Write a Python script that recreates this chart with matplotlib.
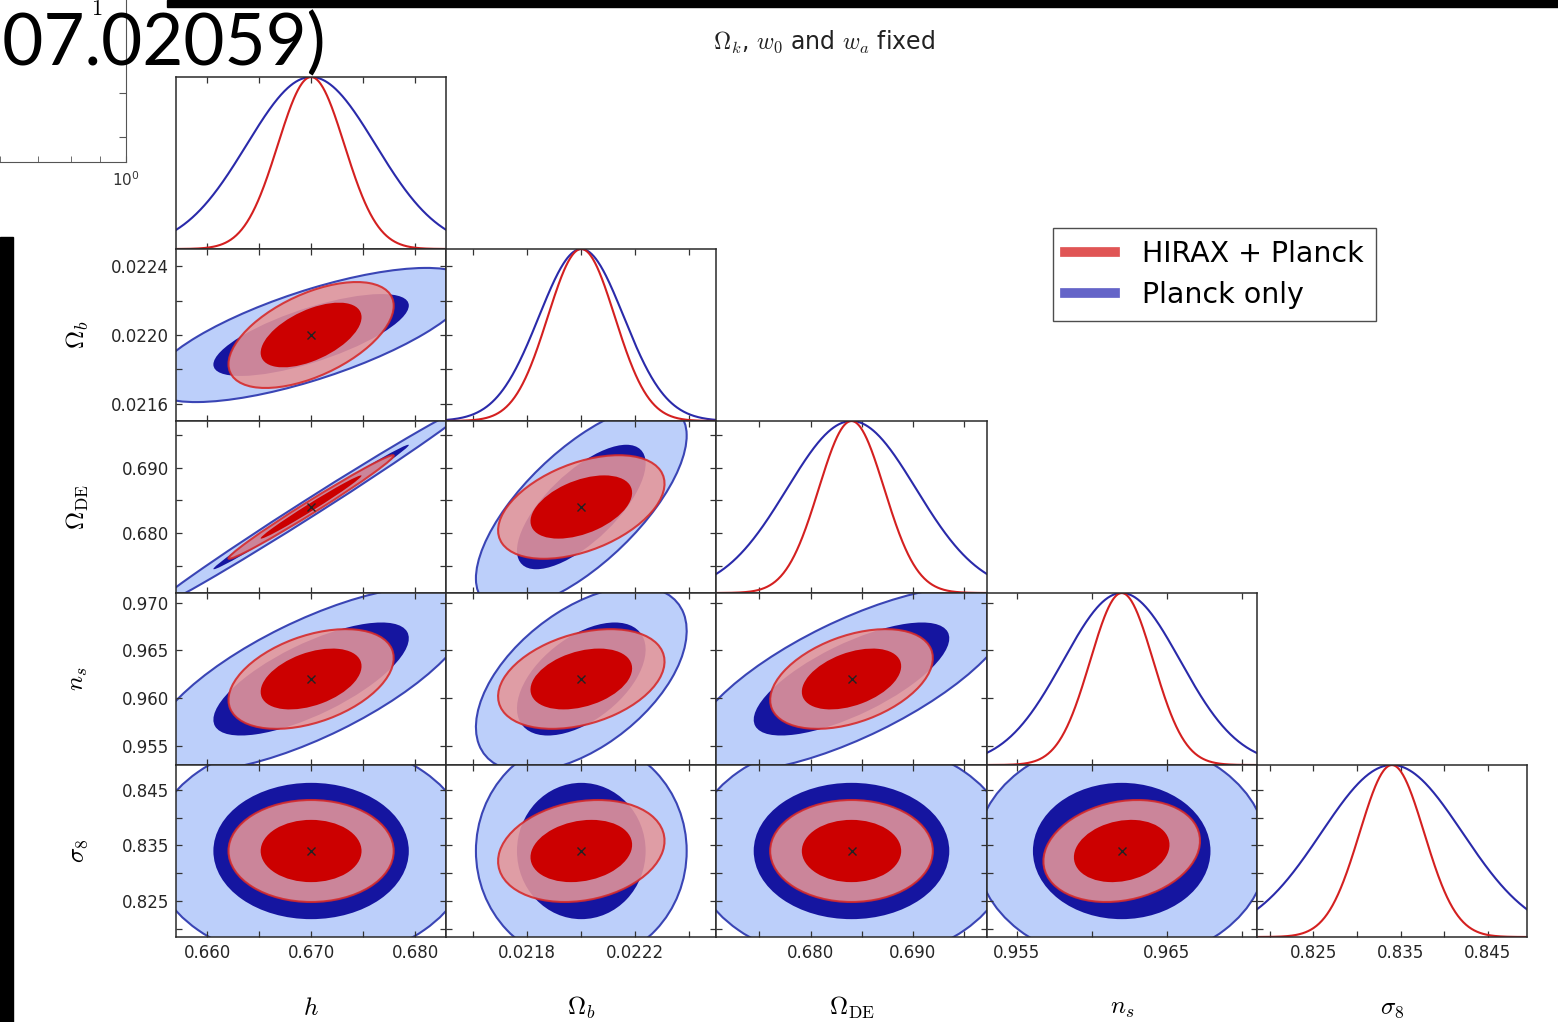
import numpy as np
import matplotlib
matplotlib.use('Agg')
import matplotlib.pyplot as plt
from matplotlib.patches import Ellipse, Rectangle
from matplotlib.lines import Line2D
import matplotlib.ticker as ticker

plt.rcParams['mathtext.fontset'] = 'cm'
plt.rcParams['font.family'] = ['DejaVu Sans']

# Fisher forecast values
labels = [r'$h$', r'$\Omega_b$', r'$\Omega_{\rm DE}$', r'$n_s$', r'$\sigma_8$']
fiducial = [0.670, 0.0220, 0.684, 0.962, 0.834]
half_range = [0.0130, 0.0005, 0.0132, 0.0090, 0.0155]
sigma_planck = [0.0062, 0.000157, 0.0063, 0.0039, 0.0081]
sigma_hirax = [0.0032, 0.000124, 0.0032, 0.0021, 0.0037]
corr_planck = [
    [1.00, 0.72, 0.995, 0.72, 0.00],
    [0.72, 1.00, 0.70, 0.52, 0.00],
    [0.995, 0.70, 1.00, 0.72, 0.00],
    [0.72, 0.52, 0.72, 1.00, 0.00],
    [0.00, 0.00, 0.00, 0.00, 1.00],
]
corr_hirax = [
    [1.00, 0.55, 0.99, 0.42, 0.00],
    [0.55, 1.00, 0.45, 0.35, 0.20],
    [0.99, 0.45, 1.00, 0.42, 0.00],
    [0.42, 0.35, 0.42, 1.00, 0.20],
    [0.00, 0.20, 0.00, 0.20, 1.00],
]

# tick positions and which ones get labels
tick_step = [0.005, 0.0002, 0.005, 0.005, 0.005]
xtick_labels = [[0.660, 0.670, 0.680], [0.0218, 0.0222], [0.680, 0.690],
                [0.955, 0.965], [0.825, 0.835, 0.845]]
ytick_labels = [None, [0.0216, 0.0220, 0.0224], [0.680, 0.690],
                [0.955, 0.960, 0.965, 0.970], [0.825, 0.835, 0.845]]
fmts = ['%.3f', '%.4f', '%.3f', '%.3f', '%.3f']

planck_light = '#bccffa'
planck_dark = '#1515a0'
planck_edge = '#3a45b5'
planck_line = '#2a2aaa'
hirax_light = '#e5969a'
hirax_dark = '#cc0000'
hirax_edge = '#d62828'
hirax_line = '#d42020'

DCHI2_1 = 2.30
DCHI2_2 = 6.17

W, H = 1558, 1022
fig = plt.figure(figsize=(W / 100, H / 100), dpi=100)

x0, x1, y0, y1 = 176, 1527, 77, 937
n = len(labels)
cw = (x1 - x0) / n
ch = (y1 - y0) / n


def all_ticks(i):
    lo = fiducial[i] - half_range[i]
    hi = fiducial[i] + half_range[i]
    st = tick_step[i]
    return np.arange(np.ceil(lo / st - 1e-6) * st, hi + 1e-12, st)


def set_ticks(axis, i, labelled, show):
    t = all_ticks(i)
    axis.set_major_locator(ticker.FixedLocator(t))
    if show and labelled is not None:
        labs = []
        for v in t:
            if any(abs(v - l) < tick_step[i] * 0.1 for l in labelled):
                labs.append(fmts[i] % v)
            else:
                labs.append('')
        axis.set_major_formatter(ticker.FixedFormatter(labs))
    else:
        axis.set_major_formatter(ticker.NullFormatter())


def cov2(si, sj, r):
    return np.array([[si * si, r * si * sj], [r * si * sj, sj * sj]])


def ellipse(ax, cov, center, k2, **kw):
    vals, vecs = np.linalg.eigh(cov)
    angle = np.degrees(np.arctan2(vecs[1, 1], vecs[0, 1]))
    w = 2 * np.sqrt(k2 * vals[1])
    h = 2 * np.sqrt(k2 * vals[0])
    ax.add_patch(Ellipse(center, w, h, angle=angle, **kw))


def style(ax):
    for s in ax.spines.values():
        s.set_color('#2a2a2a')
        s.set_linewidth(1.1)
    ax.tick_params(which='both', direction='in', top=True, right=True,
                   length=4.5, width=0.9, color='#333333', labelsize=12,
                   labelcolor='#262626', pad=5)


for i in range(n):
    for j in range(i + 1):
        rect = [(x0 + j * cw) / W, 1 - (y0 + (i + 1) * ch) / H, cw / W, ch / H]
        ax = fig.add_axes(rect)
        style(ax)
        xlo, xhi = fiducial[j] - half_range[j], fiducial[j] + half_range[j]
        ax.set_xlim(xlo, xhi)
        set_ticks(ax.xaxis, j, xtick_labels[j], i == n - 1)
        if i == j:
            xs = np.linspace(xlo, xhi, 400)
            yp = np.exp(-0.5 * ((xs - fiducial[j]) / sigma_planck[j]) ** 2)
            yh = np.exp(-0.5 * ((xs - fiducial[j]) / sigma_hirax[j]) ** 2)
            ax.plot(xs, yp, color=planck_line, lw=1.5)
            ax.plot(xs, yh, color=hirax_line, lw=1.5)
            ax.set_ylim(0, 1)
            ax.set_yticks([])
            ax.tick_params(axis='y', left=False, right=False)
            if i > 0:
                axt = ax.twinx()
                axt.set_frame_on(False)
                axt.set_ylim(fiducial[i] - half_range[i], fiducial[i] + half_range[i])
                axt.yaxis.set_major_locator(ticker.FixedLocator(all_ticks(i)))
                axt.yaxis.set_ticks_position('left')
                axt.tick_params(axis='y', direction='in', length=4.5, width=0.9,
                                color='#333333', labelleft=False, labelright=False)
        else:
            ax.set_ylim(fiducial[i] - half_range[i], fiducial[i] + half_range[i])
            set_ticks(ax.yaxis, i, ytick_labels[i], j == 0)
            c = (fiducial[j], fiducial[i])
            cp = cov2(sigma_planck[j], sigma_planck[i], corr_planck[i][j])
            chh = cov2(sigma_hirax[j], sigma_hirax[i], corr_hirax[i][j])
            ellipse(ax, cp, c, DCHI2_2, facecolor=planck_light,
                    edgecolor=planck_edge, lw=1.5, zorder=1)
            ellipse(ax, cp, c, DCHI2_1, facecolor=planck_dark,
                    edgecolor='none', zorder=2)
            ellipse(ax, chh, c, DCHI2_2, facecolor=hirax_light,
                    edgecolor=hirax_edge, lw=1.5, alpha=0.88, zorder=3)
            ellipse(ax, chh, c, DCHI2_1, facecolor=hirax_dark,
                    edgecolor='none', zorder=4)
            ax.plot(c[0], c[1], 'x', color='#222222', ms=6, mew=1, zorder=5)

# axis labels
for j in range(n):
    fig.text((x0 + (j + 0.5) * cw) / W, 1 - 1008 / H, labels[j],
             ha='center', va='center', fontsize=18)
for i in range(1, n):
    fig.text(78 / W, 1 - (y0 + (i + 0.5) * ch) / H, labels[i],
             ha='center', va='center', rotation=90, fontsize=18)

fig.text(824 / W, 1 - 42 / H, r'$\Omega_k$, $w_0$ and $w_a$ fixed',
         ha='center', va='center', fontsize=17, color='#222222')

handles = [Line2D([], [], color='#e05555', lw=7),
           Line2D([], [], color='#6464c8', lw=7)]
leg = fig.legend(handles, ['HIRAX + Planck', 'Planck only'], loc='upper left',
                 bbox_to_anchor=(1053 / W, 1 - 228 / H), borderaxespad=0,
                 fontsize=20.5, fancybox=False, handlelength=1.75,
                 handletextpad=0.95, borderpad=0.42, labelspacing=0.45)
leg.get_frame().set_edgecolor('#222222')
leg.get_frame().set_linewidth(1.0)

# remnants of a neighbouring slide in the screenshot
fig.add_artist(Rectangle((167 / W, 1 - 7 / H), 1 - 167 / W, 7 / H,
                         transform=fig.transFigure, color='black', zorder=10))
fig.add_artist(Rectangle((0, 0), 13 / W, 1 - 237 / H,
                         transform=fig.transFigure, color='black', zorder=10))
fig.text(326 / W, 1 - 65 / H, '1507.02059)', ha='right', va='baseline',
         fontsize=51, family='Lato', color='black')
fig.text(97 / W, 1 - 15 / H, r'$1$', ha='center', va='baseline', fontsize=16)

ax0 = fig.add_axes([-200 / W, 1 - 162 / H, 326 / W, 262 / H])
ax0.set_facecolor('none')
ax0.set_xscale('log')
ax0.set_xlim(10 ** (-326 / 568), 1)
ax0.set_ylim(0, 262)
ax0.xaxis.set_major_locator(ticker.FixedLocator([1.0]))
ax0.xaxis.set_major_formatter(ticker.FixedFormatter([r'$\mathregular{10^{0}}$']))
ax0.xaxis.set_minor_locator(ticker.LogLocator(subs=np.arange(2, 10)))
ax0.xaxis.set_minor_formatter(ticker.NullFormatter())
ax0.yaxis.set_major_locator(ticker.FixedLocator([25, 69]))
ax0.yaxis.set_ticks_position('right')
ax0.tick_params(axis='y', labelright=False, direction='in', length=5,
                color='#555555')
ax0.tick_params(axis='x', which='both', direction='in', length=4,
                color='#555555', labelsize=11, labelcolor='#333333', pad=6)
ax0.spines['top'].set_visible(False)
ax0.spines['left'].set_visible(False)
for s in ['right', 'bottom']:
    ax0.spines[s].set_color('#555555')

fig.savefig('out.png', dpi=100)
